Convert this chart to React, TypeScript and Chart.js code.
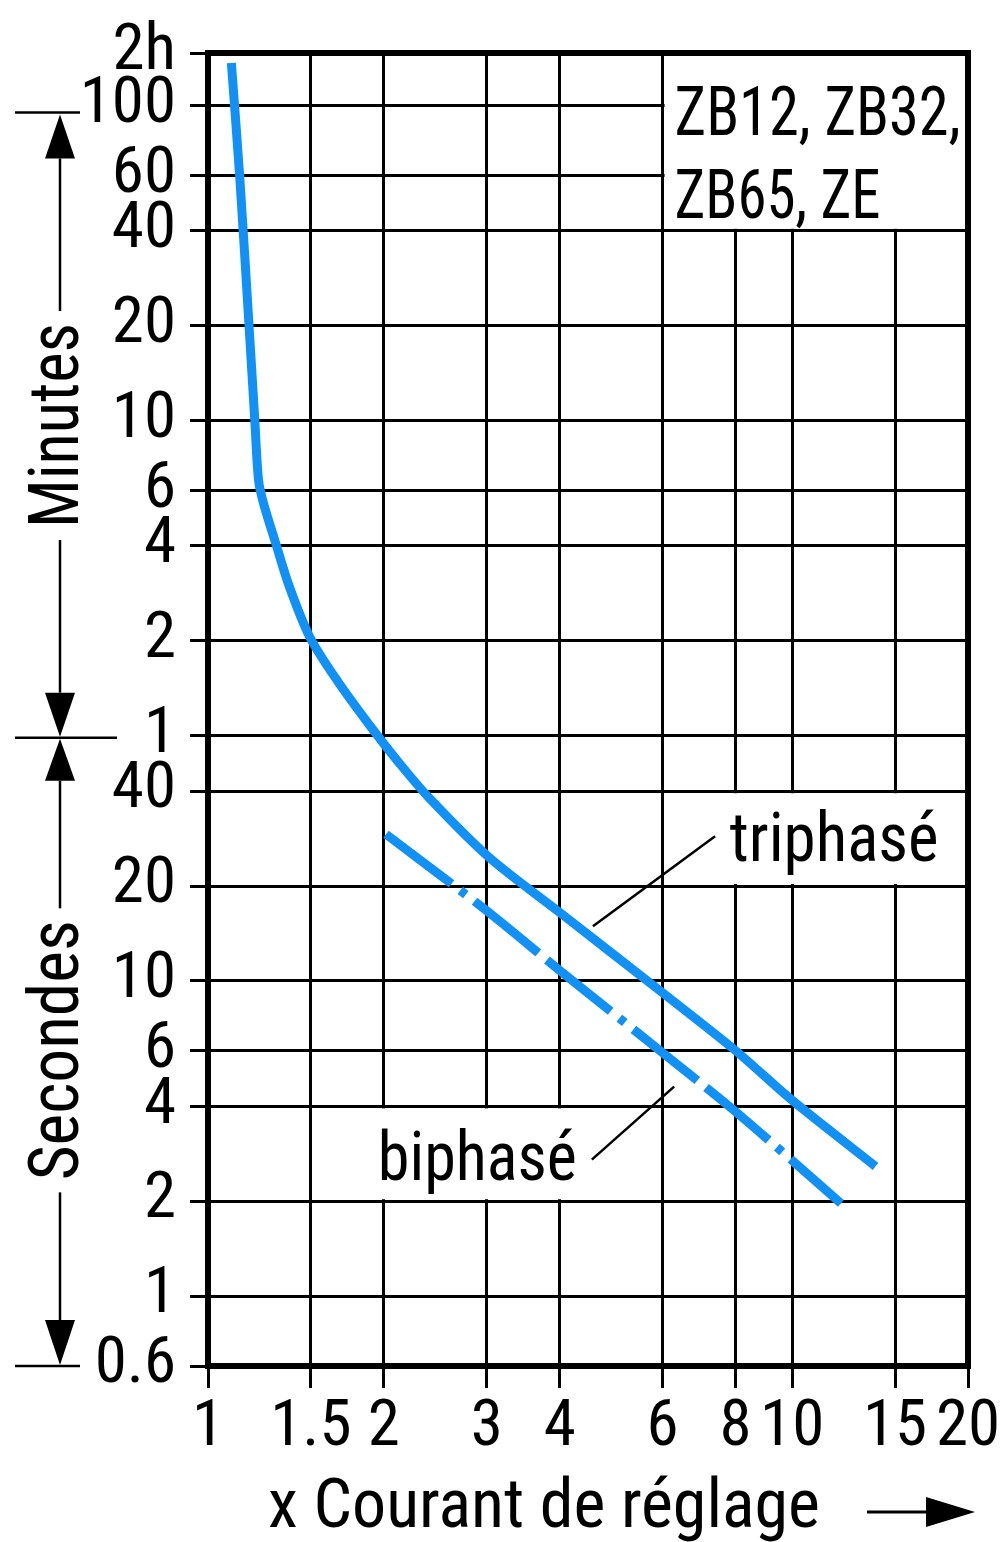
import React, { useEffect, useRef } from "react";
import { Chart, registerables } from "chart.js";

Chart.register(...registerables);

// ---------- data ----------
const xTickValues = [1, 1.5, 2, 3, 4, 6, 8, 10, 15, 20];
const xTickLabels = ["1", "1.5", "2", "3", "4", "6", "8", "10", "15", "20"];

// y values in seconds (1 min = 60 s). The top grid line of the picture sits at
// about 8800 s on its own log scale; the picture labels that line "2h".
const yMin = 0.6;
const yMax = 8800;
const yTickValues = [0.6, 1, 2, 4, 6, 10, 20, 40, 60, 120, 240, 360, 600, 1200, 2400, 3600, 6000, 8800];
const yTickLabels = ["0.6", "1", "2", "4", "6", "10", "20", "40", "1", "2", "4", "6", "10", "20", "40", "60", "100", "2h"];

const seriesNames = ["triphasé", "biphasé"];

const triX = [1.0965, 1.1335, 1.176, 1.2023, 1.2203, 1.2428, 1.3039, 1.3785, 1.495, 1.668, 1.915, 2.12, 2.384, 3.025, 4.032, 6.0, 8.0, 10.0, 13.89];
const triY = [8181, 3538, 1186, 606, 389, 331, 247, 178, 123, 89.2, 62.8, 49.4, 38.3, 24.7, 16.3, 9.17, 6.01, 4.18, 2.58];

const biX = [2.017, 3.0, 4.0, 6.0, 8.0, 12.12];
const biY = [29.2, 16.7, 10.8, 5.92, 3.85, 1.97];

const boxLabel = ["ZB12, ZB32,", "ZB65, ZE"];
const xTitle = "x Courant de réglage";
const minutesLabel = "Minutes";
const secondsLabel = "Secondes";

// leader lines (data units): [[x0, y0], [x1, y1]]
const triLeader = [[4.56, 14.9], [7.38, 28.8]];
const biLeader = [[4.54, 2.71], [6.28, 4.62]];

// white boxes hiding the grid behind the labels: [x0, x1, y0, y1]
const maskBoxes = [
  [6, 20, 2400, 8800],
  [6, 20, 20, 40],
  [1.5, 6, 2, 4],
];

// ---------- styles ----------
const BLUE = "#1190f5";
const INK = "#000";

type FontPick = { family: string; stretch: string; digit: number };

function pickFont(): FontPick {
  const c = document.createElement("canvas").getContext("2d") as CanvasRenderingContext2D;
  const cands = [
    { family: '"Liberation Sans Narrow"', stretch: "" },
    { family: '"Roboto Condensed"', stretch: "" },
    { family: '"Noto Sans Condensed"', stretch: "" },
    { family: '"Noto Sans"', stretch: "condensed" },
    { family: '"DejaVu Sans Condensed"', stretch: "" },
  ];
  const measure = (f: string, s: string) => {
    c.font = "10px monospace";
    c.font = f;
    if (c.font === "10px monospace") return -1;
    return c.measureText(s).width;
  };
  let best: FontPick = { family: '"DejaVu Sans Condensed"', stretch: "", digit: 0.572 };
  let bestW = Infinity;
  for (const cd of cands) {
    const pre = cd.stretch ? cd.stretch + " " : "";
    const sample = "0123456789 Courant de réglage";
    const a = measure(`${pre}100px ${cd.family}, monospace`, sample);
    const b = measure(`${pre}100px ${cd.family}, serif`, sample);
    if (a < 0 || b < 0 || Math.abs(a - b) > 0.5) continue;
    if (a < bestW - 0.5) {
      bestW = a;
      const d = measure(`${pre}100px ${cd.family}, sans-serif`, "0") / 100;
      best = { family: cd.family, stretch: cd.stretch, digit: d };
    }
  }
  return best;
}

function makePlugin(fam: string, pre: string) {
  const TEXT = 68;
  const fitText = (ctx: CanvasRenderingContext2D, text: string, x: number, y: number, targetW: number) => {
    const w = ctx.measureText(text).width;
    const s = Math.max(0.7, Math.min(1.15, targetW / w));
    ctx.save();
    ctx.translate(x, y);
    ctx.scale(s, 1);
    ctx.fillText(text, 0, 0);
    ctx.restore();
  };
  return {
    id: "annotations",
    beforeDatasetsDraw(chart: any) {
      const { ctx } = chart;
      const x = chart.scales.x;
      const y = chart.scales.y;
      ctx.save();
      ctx.fillStyle = "#fff";
      for (const b of maskBoxes) {
        const l = x.getPixelForValue(b[0]) + 2;
        const r = x.getPixelForValue(b[1]) - 2;
        const t = y.getPixelForValue(b[3]) + 2;
        const bt = y.getPixelForValue(b[2]) - 2;
        ctx.fillRect(l, t, r - l, bt - t);
      }
      ctx.fillStyle = INK;
      ctx.textAlign = "left";
      ctx.textBaseline = "alphabetic";
      ctx.font = `${pre}${TEXT}px ${fam}`;
      const bx = x.getPixelForValue(6) + 12;
      const top = y.getPixelForValue(yMax);
      const bot = y.getPixelForValue(2400);
      fitText(ctx, boxLabel[0], bx, top + 82, 286);
      fitText(ctx, boxLabel[1], bx, bot - 13, 206);

      fitText(ctx, seriesNames[0], x.getPixelForValue(6) + 67, y.getPixelForValue(20) - 25, 209);
      fitText(ctx, seriesNames[1], x.getPixelForValue(1.5) + 67, y.getPixelForValue(2) - 21, 199);

      ctx.strokeStyle = INK;
      ctx.lineWidth = 2.5;
      for (const seg of [triLeader, biLeader]) {
        ctx.beginPath();
        ctx.moveTo(x.getPixelForValue(seg[0][0]), y.getPixelForValue(seg[0][1]));
        ctx.lineTo(x.getPixelForValue(seg[1][0]), y.getPixelForValue(seg[1][1]));
        ctx.stroke();
      }
      ctx.restore();
    },
    afterDatasetsDraw(chart: any) {
      const { ctx, chartArea: a } = chart;
      ctx.save();
      ctx.strokeStyle = INK;
      ctx.lineWidth = 6;
      ctx.strokeRect(a.left, a.top, a.right - a.left, a.bottom - a.top);
      ctx.restore();
    },
    afterDraw(chart: any) {
      const { ctx, chartArea: a } = chart;
      const y = chart.scales.y;
      ctx.save();
      ctx.strokeStyle = INK;
      ctx.fillStyle = INK;
      ctx.lineWidth = 2.5;
      const sx = 60;
      const yTopMark = y.getPixelForValue(6000) + 7;
      const yMid = y.getPixelForValue(60) + 2;
      const yBot = a.bottom;

      const hline = (yy: number, x0: number, x1: number) => {
        ctx.beginPath();
        ctx.moveTo(x0, yy);
        ctx.lineTo(x1, yy);
        ctx.stroke();
      };
      const vline = (y0: number, y1: number) => {
        ctx.beginPath();
        ctx.moveTo(sx, y0);
        ctx.lineTo(sx, y1);
        ctx.stroke();
      };
      const arrow = (tip: number, base: number) => {
        ctx.beginPath();
        ctx.moveTo(sx, tip);
        ctx.lineTo(sx - 15, base);
        ctx.lineTo(sx + 15, base);
        ctx.closePath();
        ctx.fill();
      };
      hline(yTopMark, 15, 80);
      hline(yMid, 15, 117);
      hline(yBot, 15, 80);
      arrow(yTopMark + 2, yTopMark + 46);
      arrow(yMid - 1, yMid - 45);
      arrow(yMid + 1, yMid + 43);
      arrow(yBot - 1, yBot - 46);

      ctx.font = `${pre}${TEXT + 2}px ${fam}`;
      ctx.textAlign = "center";
      ctx.textBaseline = "alphabetic";
      const drawVert = (text: string, y0: number, y1: number, targetW: number) => {
        const cy = (y0 + y1) / 2;
        const w = ctx.measureText(text).width;
        const s = Math.max(0.7, Math.min(1.15, targetW / w));
        vline(y0, cy - targetW / 2 - 12);
        vline(cy + targetW / 2 + 12, y1);
        ctx.save();
        ctx.translate(78, cy);
        ctx.rotate(-Math.PI / 2);
        ctx.scale(s, 1);
        ctx.fillText(text, 0, 0);
        ctx.restore();
      };
      drawVert(minutesLabel, yTopMark + 46, yMid - 45, 205);
      drawVert(secondsLabel, yMid + 43, yBot - 46, 260);

      // x-axis title with arrow
      ctx.textAlign = "left";
      ctx.font = `${pre}${TEXT}px ${fam}`;
      const base = a.bottom + 161;
      fitText(ctx, xTitle, a.left + 60, base, 552);
      const ay = base - 15;
      ctx.lineWidth = 3;
      ctx.beginPath();
      ctx.moveTo(a.right - 101, ay);
      ctx.lineTo(a.right - 40, ay);
      ctx.stroke();
      ctx.beginPath();
      ctx.moveTo(a.right + 7, ay);
      ctx.lineTo(a.right - 42, ay - 15);
      ctx.lineTo(a.right - 42, ay + 15);
      ctx.closePath();
      ctx.fill();
      ctx.restore();
    },
  };
}

export default function App() {
  const ref = useRef<HTMLCanvasElement>(null);
  useEffect(() => {
    document.body.style.overflow = "hidden";
    const pick = pickFont();
    const fam = `${pick.family}, "DejaVu Sans Condensed", sans-serif`;
    const pre = pick.stretch ? pick.stretch + " " : "";
    const tickSize = Math.round(Math.min(66, 32 / (pick.digit || 0.572)));
    const tickFont: any = { family: fam, size: tickSize };
    if (pick.stretch) tickFont.weight = pick.stretch;

    const chart = new Chart(ref.current as HTMLCanvasElement, {
      type: "scatter",
      data: {
        datasets: [
          {
            label: seriesNames[0],
            data: triX.map((v, i) => ({ x: v, y: triY[i] })),
            showLine: true,
            borderColor: BLUE,
            backgroundColor: BLUE,
            borderWidth: 9,
            pointRadius: 0,
            tension: 0.3,
            borderCapStyle: "butt",
            borderJoinStyle: "round",
            fill: false,
          },
          {
            label: seriesNames[1],
            data: biX.map((v, i) => ({ x: v, y: biY[i] })),
            showLine: true,
            borderColor: BLUE,
            backgroundColor: BLUE,
            borderWidth: 9,
            pointRadius: 0,
            borderDash: [82, 11, 7, 11, 82, 11],
            tension: 0.3,
            borderCapStyle: "butt",
            fill: false,
          },
        ],
      } as any,
      options: {
        responsive: false,
        animation: false,
        events: [],
        layout: { padding: { top: 50, right: 38, left: 0, bottom: 0 } },
        plugins: { legend: { display: false }, tooltip: { enabled: false } },
        scales: {
          x: {
            type: "logarithmic",
            min: 1,
            max: 20,
            afterBuildTicks: (s: any) => {
              s.ticks = xTickValues.map((v) => ({ value: v }));
            },
            afterFit: (s: any) => {
              s.height = 176;
            },
            ticks: {
              autoSkip: false,
              maxRotation: 0,
              minRotation: 0,
              padding: 2,
              color: INK,
              font: tickFont,
              callback: (_v: any, i: number) => xTickLabels[i],
            },
            grid: { color: INK, lineWidth: 3, tickLength: 22 },
            border: { display: true, color: INK, width: 6 },
          },
          y: {
            type: "logarithmic",
            min: yMin,
            max: yMax,
            afterBuildTicks: (s: any) => {
              s.ticks = yTickValues.map((v) => ({ value: v }));
            },
            afterFit: (s: any) => {
              s.width = 208;
            },
            ticks: {
              autoSkip: false,
              padding: 14,
              color: INK,
              font: tickFont,
              callback: (_v: any, i: number) => yTickLabels[i],
            },
            grid: { color: INK, lineWidth: 3, tickLength: 18 },
            border: { display: true, color: INK, width: 6 },
          },
        },
      } as any,
      plugins: [makePlugin(fam, pre)],
    });
    return () => chart.destroy();
  }, []);
  return (
    <div style={{ position: "absolute", left: 0, top: 0, width: 1006, height: 1542, background: "#fff", overflow: "hidden" }}>
      <canvas ref={ref} width={1006} height={1542} style={{ display: "block", width: 1006, height: 1542 }} />
    </div>
  );
}
